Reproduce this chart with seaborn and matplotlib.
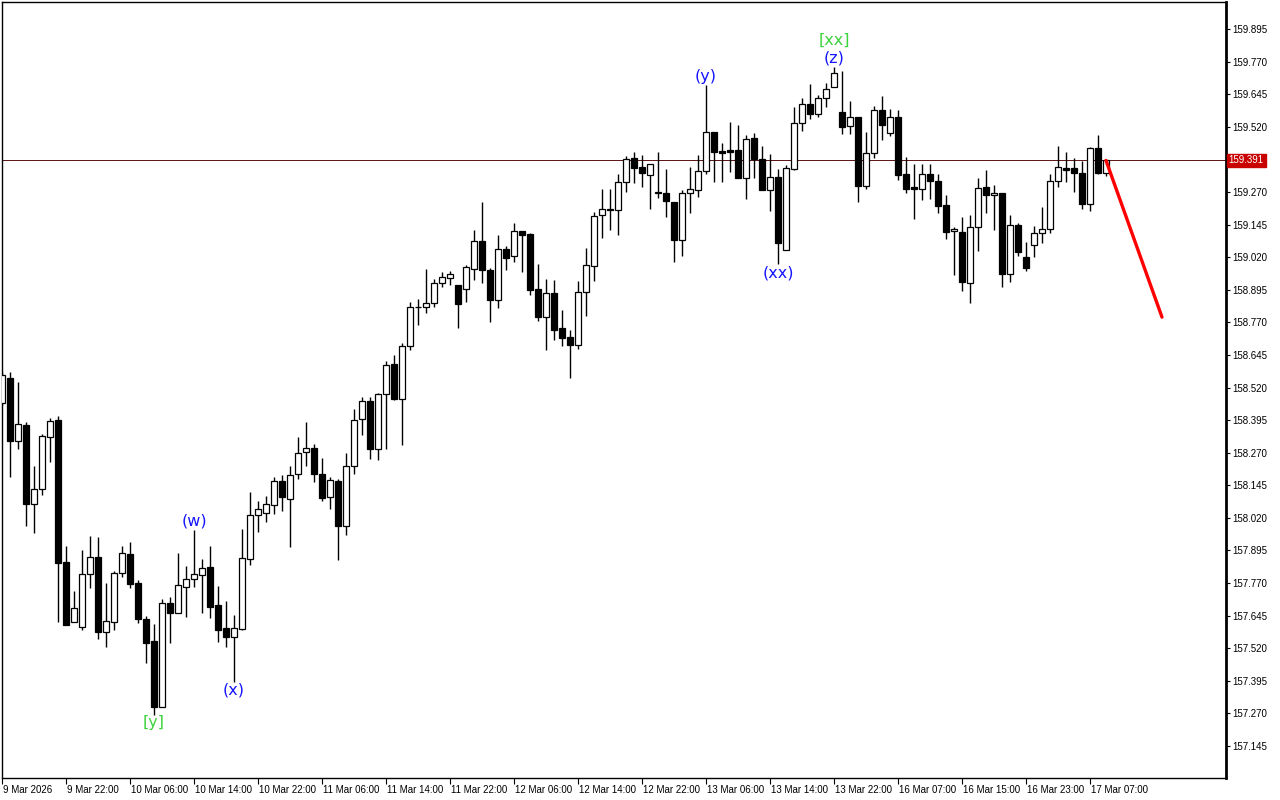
import matplotlib
matplotlib.use("Agg")
import matplotlib.pyplot as plt
import matplotlib.transforms as mtransforms
import numpy as np
import pandas as pd
import seaborn as sns

# ---------------- data (H1 candles) ----------------
opens = [158.462, 158.555, 158.316, 158.376, 158.073, 158.132, 158.331, 158.395, 157.851, 157.622,
         157.602, 157.805, 157.870, 157.583, 157.622, 157.808, 157.881, 157.769, 157.631, 157.546,
         157.293, 157.692, 157.654, 157.756, 157.787, 157.800, 157.830, 157.684, 157.596, 157.564,
         157.595, 157.861, 158.030, 158.040, 158.068, 158.160, 158.093, 158.189, 158.271, 158.287,
         158.189, 158.099, 158.161, 157.990, 158.218, 158.398, 158.467, 158.283, 158.494, 158.609,
         158.475, 158.678, 158.828, 158.828, 158.843, 158.920, 158.939, 158.912, 158.897, 158.976,
         159.081, 158.970, 158.854, 159.050, 159.023, 159.119, 159.108, 158.897, 158.791, 158.881,
         158.747, 158.712, 158.684, 158.887, 158.987, 159.183, 159.203, 159.202, 159.307, 159.399,
         159.365, 159.334, 159.269, 159.265, 159.231, 159.086, 159.265, 159.278, 159.351, 159.500,
         159.428, 159.431, 159.431, 159.322, 159.476, 159.396, 159.279, 159.327, 159.047, 159.360,
         159.533, 159.606, 159.568, 159.629, 159.671, 159.577, 159.522, 159.556, 159.294, 159.418,
         159.583, 159.495, 159.556, 159.338, 159.290, 159.280, 159.341, 159.311, 159.219, 159.119,
         159.116, 158.922, 159.135, 159.288, 159.257, 159.265, 158.957, 159.142, 159.019, 159.065,
         159.111, 159.127, 159.311, 159.361, 159.361, 159.343, 159.223, 159.438, 159.344]
highs = [158.579, 158.579, 158.541, 158.388, 158.219, 158.342, 158.403, 158.411, 157.912, 157.739,
         157.897, 157.950, 157.946, 157.770, 157.816, 157.912, 157.927, 157.782, 157.643, 157.613,
         157.710, 157.715, 157.886, 157.835, 157.973, 157.861, 157.912, 157.759, 157.701, 157.646,
         157.976, 158.118, 158.083, 158.104, 158.175, 158.183, 158.219, 158.329, 158.388, 158.303,
         158.248, 158.175, 158.168, 158.267, 158.436, 158.482, 158.482, 158.498, 158.620, 158.643,
         158.689, 158.848, 158.860, 158.974, 158.936, 158.963, 158.967, 158.915, 158.989, 159.124,
         159.231, 158.977, 159.105, 159.063, 159.151, 159.119, 159.114, 158.994, 158.936, 158.932,
         158.817, 158.739, 158.928, 159.055, 159.193, 159.281, 159.281, 159.339, 159.408, 159.422,
         159.412, 159.376, 159.422, 159.358, 159.231, 159.278, 159.365, 159.412, 159.680, 159.500,
         159.457, 159.538, 159.527, 159.488, 159.495, 159.445, 159.414, 159.360, 159.374, 159.595,
         159.629, 159.684, 159.641, 159.690, 159.748, 159.735, 159.619, 159.556, 159.500, 159.600,
         159.638, 159.587, 159.583, 159.404, 159.376, 159.377, 159.377, 159.341, 159.257, 159.135,
         159.174, 159.182, 159.322, 159.354, 159.297, 159.265, 159.182, 159.150, 159.078, 159.138,
         159.211, 159.339, 159.447, 159.424, 159.401, 159.389, 159.443, 159.488, 159.398]
lows = [158.453, 158.178, 158.284, 157.990, 157.962, 158.108, 158.234, 157.620, 157.609, 157.620,
        157.590, 157.751, 157.556, 157.526, 157.590, 157.793, 157.751, 157.615, 157.462, 157.264,
        157.293, 157.541, 157.654, 157.638, 157.754, 157.654, 157.635, 157.545, 157.523, 157.391,
        157.590, 157.838, 157.967, 158.004, 158.036, 158.047, 157.909, 158.170, 158.220, 158.159,
        158.086, 158.055, 157.858, 157.955, 158.189, 158.339, 158.247, 158.243, 158.285, 158.471,
        158.300, 158.665, 158.761, 158.807, 158.830, 158.904, 158.914, 158.749, 158.849, 158.933,
        158.922, 158.772, 158.826, 158.972, 159.002, 158.964, 158.876, 158.776, 158.664, 158.702,
        158.680, 158.557, 158.667, 158.795, 158.930, 159.094, 159.125, 159.106, 159.271, 159.305,
        159.290, 159.206, 159.248, 159.175, 159.002, 159.024, 159.190, 159.250, 159.341, 159.309,
        159.309, 159.345, 159.325, 159.243, 159.325, 159.279, 159.198, 158.992, 159.047, 159.354,
        159.505, 159.552, 159.556, 159.595, 159.671, 159.491, 159.491, 159.233, 159.280, 159.401,
        159.470, 159.485, 159.318, 159.267, 159.165, 159.239, 159.242, 159.190, 159.091, 158.953,
        158.891, 158.843, 159.045, 159.188, 159.126, 158.904, 158.926, 159.025, 158.968, 159.022,
        159.075, 159.111, 159.290, 159.309, 159.271, 159.206, 159.198, 159.338, 159.331]
closes = [158.568, 158.316, 158.380, 158.073, 158.131, 158.334, 158.391, 157.848, 157.609, 157.674,
          157.805, 157.870, 157.583, 157.624, 157.808, 157.885, 157.767, 157.631, 157.539, 157.296,
          157.692, 157.654, 157.761, 157.787, 157.803, 157.826, 157.679, 157.590, 157.564, 157.596,
          157.865, 158.030, 158.053, 158.073, 158.160, 158.101, 158.185, 158.267, 158.287, 158.189,
          158.097, 158.164, 157.990, 158.218, 158.394, 158.467, 158.283, 158.494, 158.605, 158.475,
          158.678, 158.828, 158.829, 158.843, 158.920, 158.943, 158.954, 158.839, 158.981, 159.081,
          158.970, 158.854, 159.050, 159.018, 159.119, 159.107, 158.895, 158.791, 158.881, 158.740,
          158.711, 158.684, 158.885, 158.989, 159.177, 159.203, 159.202, 159.307, 159.395, 159.364,
          159.343, 159.376, 159.265, 159.236, 159.086, 159.265, 159.281, 159.350, 159.499, 159.424,
          159.420, 159.424, 159.325, 159.472, 159.395, 159.279, 159.327, 159.075, 159.361, 159.533,
          159.606, 159.568, 159.629, 159.667, 159.725, 159.520, 159.556, 159.294, 159.418, 159.583,
          159.526, 159.556, 159.336, 159.283, 159.280, 159.341, 159.313, 159.217, 159.118, 159.128,
          158.926, 159.135, 159.284, 159.257, 159.265, 158.957, 159.142, 159.041, 158.977, 159.111,
          159.127, 159.311, 159.365, 159.356, 159.344, 159.225, 159.438, 159.344, 159.391]

time_labels = ["9 Mar 2026", "9 Mar 22:00", "10 Mar 06:00", "10 Mar 14:00", "10 Mar 22:00",
               "11 Mar 06:00", "11 Mar 14:00", "11 Mar 22:00", "12 Mar 06:00", "12 Mar 14:00",
               "12 Mar 22:00", "13 Mar 06:00", "13 Mar 14:00", "13 Mar 22:00", "16 Mar 07:00",
               "16 Mar 15:00", "16 Mar 23:00", "17 Mar 07:00"]
time_label_bars = [0, 8, 16, 24, 32, 40, 48, 56, 64, 72, 80, 88, 96, 104, 112, 120, 128, 136]

price_ticks = [159.895, 159.770, 159.645, 159.520, 159.270, 159.145, 159.020, 158.895,
               158.770, 158.645, 158.520, 158.395, 158.270, 158.145, 158.020, 157.895,
               157.770, 157.645, 157.520, 157.395, 157.270, 157.145]
current_price = 159.391

wave_text = ["[y]", "(w)", "(x)", "(y)", "(xx)", "[xx]", "(z)"]
wave_bar = [19, 24, 29, 88, 97, 104, 104]
wave_price = [157.236, 158.008, 157.360, 159.715, 158.959, 159.853, 159.784]
wave_major = [True, False, False, False, False, True, False]

forecast_bar = [138, 145]
forecast_price = [159.391, 158.790]

# ---------------- drawing ----------------
sns.set_theme(style="white")
plt.rcParams['font.family'] = ['DejaVu Sans']
AXIS_FONT = "Liberation Sans"

df = pd.DataFrame({"o": opens, "h": highs, "l": lows, "c": closes})
df["i"] = np.arange(len(df))
df["bull"] = df["c"] >= df["o"]

fig = plt.figure(figsize=(12.8, 8), dpi=100)
ax = fig.add_axes([2 / 1280, 22 / 800, 1224 / 1280, 776 / 800])
ax.set_facecolor("white")

# wicks
ax.vlines(df["i"], df["l"], df["h"], color="black", linewidth=1.0, zorder=2)
# bodies
body_bottom = np.minimum(df["o"], df["c"])
body_h = np.maximum(np.abs(df["c"] - df["o"]), 0.0008)
ax.bar(df["i"], body_h, bottom=body_bottom, width=0.64,
       color=np.where(df["bull"], "white", "black"), edgecolor="black",
       linewidth=0.9, zorder=3)

# current price line
ax.axhline(current_price, color="#5a1212", linewidth=0.7, zorder=1)

# forecast line
sns.lineplot(x=forecast_bar, y=forecast_price, ax=ax, color="#ff0000",
             linewidth=2.4, zorder=5)

# wave labels
for t, b, p, major in zip(wave_text, wave_bar, wave_price, wave_major):
    ax.text(b, p, t, color="#3cd23c" if major else "#1414ff", fontsize=11.5,
            ha="center", va="center", zorder=6)

ax.set_xlim(0, 153)
ax.set_ylim(157.022, 159.999)

# right price axis
ax.yaxis.tick_right()
ax.set_yticks(price_ticks)
ax.set_yticklabels([f"{v:.3f}" for v in price_ticks], fontfamily=AXIS_FONT)
ax.tick_params(axis="y", which="both", direction="out", length=3, width=0.8,
               labelsize=7, pad=1.5, colors="black", right=True, left=False)

# price label box
trans = mtransforms.blended_transform_factory(ax.transAxes, ax.transData)
ax.text(1.0022, current_price, f"{current_price:.3f}", transform=trans, ha="left",
        va="center", fontsize=7, color="white", zorder=10, clip_on=False,
        fontfamily=AXIS_FONT,
        bbox=dict(boxstyle="square,pad=0.2", facecolor="#c80000", edgecolor="#c80000"))

# bottom time axis
ax.set_xticks(time_label_bars)
ax.set_xticklabels(time_labels, ha="left", fontfamily=AXIS_FONT)
ax.tick_params(axis="x", direction="out", length=4, width=0.8, labelsize=7,
               pad=1, colors="black", bottom=True)
for lbl in ax.get_xticklabels():
    lbl.set_transform(lbl.get_transform() + mtransforms.ScaledTranslation(1 / 100, 0, fig.dpi_scale_trans))

for side, s in ax.spines.items():
    s.set_color("black")
    s.set_linewidth(1.0)
ax.spines["right"].set_linewidth(2.0)
ax.grid(False)

fig.savefig("out.png", dpi=100, facecolor="white")
